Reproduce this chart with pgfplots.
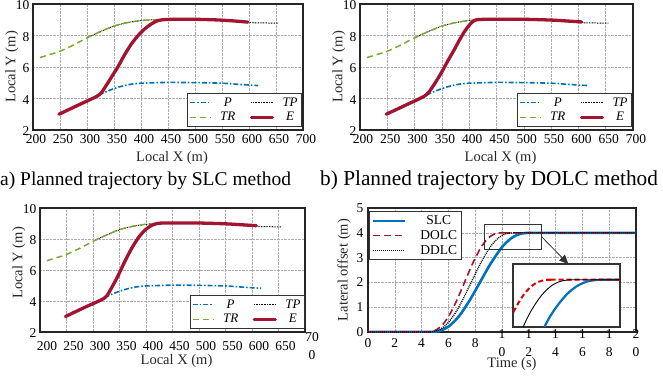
\documentclass[border=0pt]{standalone}
\usepackage{fontspec}
\setmainfont{Liberation Serif}
\usepackage{pgfplots}
\usepackage{pgfplotstable}
\pgfplotsset{compat=1.18}
\usetikzlibrary{arrows.meta}
\definecolor{cblue}{RGB}{0,114,189}
\definecolor{cgreen}{RGB}{119,172,48}
\definecolor{cred}{RGB}{162,20,47}

% ---------- trajectory data ----------
\pgfplotstableread{
x y
322 4.22
340 4.50
360 4.74
380 4.90
400 4.97
425 5.00
450 5.02
500 5.01
550 4.97
580 4.90
617 4.82
}\Ptab
\pgfplotstableread{
x y
300 7.85
325 8.25
350 8.60
375 8.82
400 8.95
425 9.00
450 9.02
500 9.02
540 8.98
570 8.90
600 8.82
625 8.80
655 8.78
}\TPtab
\pgfplotstableread{
x y
213 6.60
230 6.78
250 7.00
275 7.40
300 7.85
325 8.25
350 8.60
375 8.82
400 8.95
425 9.00
440 9.00
}\TRtab
\pgfplotstableread{
x y
248 3.00
285 3.60
322 4.22
335 4.80
347 5.45
358 6.05
370 6.80
383 7.50
396 8.05
408 8.45
420 8.75
430 8.93
440 9.00
460 9.03
500 9.03
540 8.99
570 8.93
598 8.85
}\EslcTab
\pgfplotstableread{
x y
248 3.00
285 3.60
320 4.20
335 4.85
350 5.70
361 6.40
372 7.06
382 7.70
391 8.23
400 8.65
409 8.95
420 9.02
450 9.03
500 9.03
550 8.98
580 8.92
606 8.86
}\EdolcTab
\pgfplotstableread{
x y
248 3.00
285 3.60
322 4.20
335 4.85
348 5.68
360 6.55
373 7.40
386 8.10
399 8.60
412 8.90
425 9.02
450 9.03
500 9.03
550 8.98
580 8.92
608 8.86
}\EddlcTab

% ---------- lateral offset data ----------
\pgfplotstableread{
t y
0 0
4.0 0
4.5 0
5.27 0.034
6.04 0.232
6.81 0.652
7.58 1.270
8.35 2.000
9.12 2.730
9.89 3.348
10.28 3.586
10.66 3.768
11.05 3.894
11.43 3.966
11.82 3.995
12.2 4
12.7 4
20 4
}\SLCtab
\pgfplotstableread{
t y
0 0
3.8 0
4.3 0
4.88 0.034
5.46 0.232
6.04 0.652
6.62 1.270
7.20 2.000
7.78 2.730
8.36 3.348
8.65 3.586
8.94 3.768
9.23 3.894
9.52 3.966
9.81 3.995
10.1 4
10.6 4
20 4
}\DOLCtab
\pgfplotstableread{
t y
0 0
3.9 0
4.4 0
5.06 0.034
5.72 0.232
6.38 0.652
7.04 1.270
7.70 2.000
8.36 2.730
9.02 3.348
9.35 3.586
9.68 3.768
10.01 3.894
10.34 3.966
10.67 3.995
11.0 4
11.5 4
20 4
}\DDLCtab

\pgfplotsset{
  base/.style={
    scale only axis,
    grid=major,
    major grid style={gray!65, densely dotted, line width=0.55pt},
    axis line style={line width=1.6pt, black!85},
    major tick length=0pt,
    /pgf/number format/assume math mode=true,
    /pgf/number format/1000 sep={},
    tick label style={font=\fontsize{13.5}{18}\selectfont},
    label style={font=\fontsize{14.5}{15}\selectfont, text=black!85},
    legend cell align=center,
  },
  traj/.style={
    base,
    xmin=200, xmax=700, ymin=2, ymax=10,
    xtick={200,250,...,700}, ytick={2,4,...,10},
    xlabel={Local X (m)}, ylabel={Local Y (m)},
    ylabel style={at={(axis description cs:0,0.5)}, anchor=center, yshift=21pt},
    xlabel style={at={(axis description cs:0.5,0)}, anchor=center, yshift=-28pt, xshift=4pt},
    yticklabel style={anchor=east, xshift=0pt, yshift=-1.5pt},
    xticklabel style={anchor=center, yshift=-9pt, xshift=3pt},
    legend columns=2,
    legend style={draw=black!80, line width=1.2pt,
      font=\fontsize{13}{13}\selectfont\itshape, inner sep=1.5pt,
      nodes={inner sep=2.4pt},
      /tikz/every odd column/.append style={column sep=6pt},
      /tikz/every even column/.append style={column sep=12pt}},
    legend image code/.code={\draw[#1] (0pt,0pt) -- (21pt,0pt);},
  },
  Pst/.style={cblue, line width=1.6pt, dash pattern=on 5pt off 2pt on 1.5pt off 2pt, smooth},
  TPst/.style={black, line width=1pt, dash pattern=on 0.8pt off 0.8pt, smooth},
  TRst/.style={cgreen, line width=1.5pt, dash pattern=on 6pt off 4pt, smooth},
  Est/.style={cred, line width=3.3pt, line cap=round, smooth, tension=0.45},
}

\begin{document}
\begin{tikzpicture}
\useasboundingbox (0,0) rectangle (663pt,375pt);

% (a) SLC
\begin{axis}[traj, at={(33pt,245pt)}, anchor=south west, width=270pt, height=126pt,
  legend style={at={(0.997,0.025)}, anchor=south east}]
  \addplot[Pst] table {\Ptab}; \addlegendentry{P}
  \addplot[TPst] table {\TPtab}; \addlegendentry{TP}
  \addplot[TRst] table {\TRtab}; \addlegendentry{TR}
  \addplot[Est] table {\EslcTab}; \addlegendentry{E}
\end{axis}

% (b) DOLC
\begin{axis}[traj, at={(360pt,245pt)}, anchor=south west, width=273pt, height=126pt,
  legend style={at={(0.997,0.025)}, anchor=south east}]
  \addplot[Pst] table {\Ptab}; \addlegendentry{P}
  \addplot[TPst] table {\TPtab}; \addlegendentry{TP}
  \addplot[TRst] table {\TRtab}; \addlegendentry{TR}
  \addplot[Est] table {\EdolcTab}; \addlegendentry{E}
\end{axis}

% (c) DDLC
\begin{axis}[traj, at={(40pt,43pt)}, anchor=south west, width=265pt, height=124pt,
  xticklabels={200,250,300,350,400,450,500,550,600,650,{70\\0}},
  xticklabel style={align=center, yshift=-5pt, xshift=4pt},
  xlabel style={yshift=-1pt},
  ylabel style={xshift=7pt},
  legend style={at={(1.0,0.025)}, anchor=south east}]
  \addplot[Pst] table {\Ptab}; \addlegendentry{P}
  \addplot[TPst] table {\TPtab}; \addlegendentry{TP}
  \addplot[TRst] table {\TRtab}; \addlegendentry{TR}
  \addplot[Est] table {\EddlcTab}; \addlegendentry{E}
\end{axis}

% (d) lateral offset
\begin{axis}[base, at={(368pt,43pt)}, anchor=south west, width=268pt, height=124pt,
  xmin=0, xmax=20, ymin=0, ymax=5,
  xtick={0,2,...,20}, ytick={0,1,...,5},
  xticklabels={0,2,4,6,8,{1\\0},{1\\2},{1\\4},{1\\6},{1\\8},{2\\0}},
  xticklabel style={align=center, anchor=center, yshift=-11pt},
  yticklabel style={anchor=east, xshift=-1pt},
  xlabel={Time (s)}, ylabel={Lateral offset (m)},
  xlabel style={at={(axis description cs:0.5,0)}, anchor=center, xshift=10pt, yshift=-32pt},
  ylabel style={at={(axis description cs:0,0.5)}, anchor=center, yshift=24pt},
  legend style={at={(0.004,0.975)}, anchor=north west, draw=black!80, line width=1.2pt,
    font=\fontsize{13.5}{14}\selectfont, inner sep=2pt, nodes={inner sep=2.1pt},
    /tikz/every odd column/.append style={column sep=12pt},
    /tikz/every even column/.append style={column sep=8pt}},
  legend image code/.code={\draw[#1] (0pt,0pt) -- (32pt,0pt);},
  ]
  \addplot[cblue, line width=2.6pt, smooth] table {\SLCtab}; \addlegendentry{SLC}
  \addplot[cred, line width=1.6pt, dash pattern=on 7pt off 4pt, smooth] table {\DOLCtab}; \addlegendentry{DOLC}
  \addplot[black, line width=1.3pt, dash pattern=on 1pt off 1pt, smooth] table {\DDLCtab}; \addlegendentry{DDLC}
  \draw[black!80, line width=1pt] (axis cs:8.66,3.31) rectangle (axis cs:12.96,4.35);
  \draw[black!80, line width=0.8pt, -{Triangle[length=9pt,width=8pt]}] (axis cs:12.96,3.84) -- (axis cs:14.95,2.74);
\end{axis}

% inset
\begin{axis}[at={(513pt,48pt)}, anchor=south west, scale only axis, width=107pt, height=63pt,
  xmin=8.5, xmax=12.8, ymin=3.25, ymax=4.25, xtick=\empty, ytick=\empty,
  axis line style={line width=1.1pt, black!80}, axis background/.style={fill=white}]
  \addplot[cblue, line width=2.2pt, smooth] table {\SLCtab};
  \addplot[red!85!black, line width=2pt, dash pattern=on 5pt off 3pt, smooth] table {\DOLCtab};
  \addplot[black, line width=0.9pt, smooth] table {\DDLCtab};
\end{axis}

\node[anchor=base west, inner sep=0, font=\fontsize{19.5}{20}\selectfont] at (0pt,189pt) {a) Planned trajectory by SLC method};
\node[anchor=base west, inner sep=0, font=\fontsize{21.3}{22}\selectfont] at (320pt,189pt) {b) Planned trajectory by DOLC method};
\end{tikzpicture}
\end{document}
